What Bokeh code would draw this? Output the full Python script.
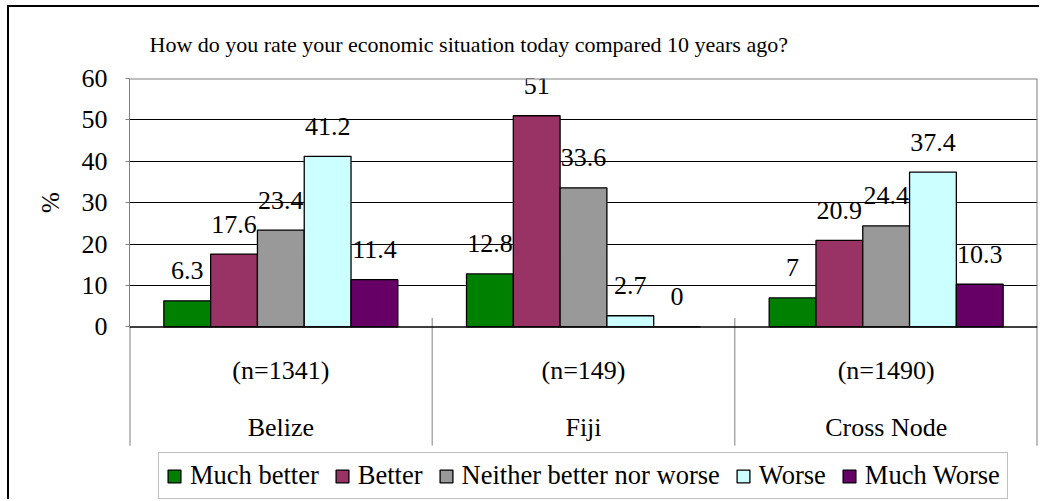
from bokeh.plotting import figure
from bokeh.models import Range1d, FixedTicker, Span, Legend, LegendItem, ColumnDataSource
from bokeh.core.properties import value
from bokeh.embed import file_html
from bokeh.resources import INLINE

# ---- data ----
groups = ["Belize", "Fiji", "Cross Node"]
sample_sizes = ["(n=1341)", "(n=149)", "(n=1490)"]
series_names = ["Much better", "Better", "Neither better nor worse", "Worse", "Much Worse"]
much_better = [6.3, 12.8, 7]
better = [17.6, 51, 20.9]
neither = [23.4, 33.6, 24.4]
worse = [41.2, 2.7, 37.4]
much_worse = [11.4, 0, 10.3]
y_ticks = [0, 10, 20, 30, 40, 50, 60]
title_text = "How do you rate your economic situation today compared 10 years ago?"
y_label = "%"

series_values = [much_better, better, neither, worse, much_worse]
colors = ["#008000", "#993366", "#999999", "#CCFFFF", "#660066"]

FONT = "Liberation Serif"
n_groups = len(groups)

# layout (page pixels): value axis 0 -> y=326, 60 -> y=77; category band down to y=445
PX = (326 - 77) / (y_ticks[-1] - y_ticks[0])
y_min = -(501 - 326) / PX            # frame reaches the bottom of the page
cat_bottom = -(445 - 326) / PX
n_row_y = -(370 - 326) / PX
g_row_y = -(427 - 326) / PX
sep_top = 9 / PX

p = figure(width=1032, height=494, output_backend="svg", toolbar_location=None,
           x_range=Range1d(0, n_groups), y_range=Range1d(y_min, y_ticks[-1]),
           x_axis_location=None,
           min_border_left=120, min_border_right=4, min_border_top=70,
           min_border_bottom=0)
p.styles = {"margin-left": "7px", "margin-top": "5px",
            "border-left": "2px solid black", "border-top": "2px solid black"}
p.background_fill_color = "white"
p.border_fill_color = "white"
p.outline_line_color = None
p.xgrid.visible = False

# title
p.title.text = title_text
p.title.align = "left"
p.title.offset = 20
p.title.text_font = FONT
p.title.text_font_size = "22px"
p.title.text_font_style = "normal"
p.title.text_color = "black"
p.title.standoff = 44

# y axis
ya = p.yaxis[0]
ya.ticker = FixedTicker(ticks=y_ticks)
ya.bounds = (y_ticks[0], y_ticks[-1])
ya.axis_line_color = "#808080"
ya.major_tick_line_color = "#808080"
ya.major_tick_out = 4
ya.major_tick_in = 0
ya.minor_tick_line_color = None
ya.major_label_text_font = FONT
ya.major_label_text_font_size = "26px"
ya.major_label_text_color = "black"
ya.major_label_standoff = 18
# the label is centred on the whole frame; pad it so that it sits beside the value band
ya.axis_label = "\u00a0" * 28 + y_label
ya.axis_label_text_font = FONT
ya.axis_label_text_font_size = "25px"
ya.axis_label_text_font_style = "normal"
ya.axis_label_text_color = "black"
ya.axis_label_standoff = 15

p.ygrid.ticker = FixedTicker(ticks=y_ticks[1:-1])
p.ygrid.grid_line_color = "black"
p.ygrid.grid_line_width = 1

# plot-area top edge, zero line
p.add_layout(Span(location=y_ticks[-1], dimension="width", line_color="#808080", line_width=2))
p.add_layout(Span(location=0, dimension="width", line_color="black", line_width=1.5))

# group separators (category axis ticks) and plot-area edges
inner = list(range(1, n_groups))
p.segment(x0=inner, y0=[cat_bottom] * len(inner), x1=inner, y1=[sep_top] * len(inner),
          line_color="#808080", line_width=1)
p.segment(x0=[0], y0=[cat_bottom], x1=[0], y1=[0], line_color="#808080", line_width=2)
p.segment(x0=[n_groups], y0=[cat_bottom], x1=[n_groups], y1=[y_ticks[-1]],
          line_color="#808080", line_width=2)

# category labels
centres = [g + 0.5 for g in range(n_groups)]
p.text(x=centres, y=[n_row_y] * n_groups, text=sample_sizes, text_font=value(FONT),
       text_font_size="26px", text_align="center", text_baseline="middle",
       text_color="black")
p.text(x=centres, y=[g_row_y] * n_groups, text=groups, text_font=value(FONT),
       text_font_size="26px", text_align="center", text_baseline="middle",
       text_color="black")

# bars
bar_w = 46.8 / 302.7
items = []
for i, (name, vals, col) in enumerate(zip(series_names, series_values, colors)):
    xs = [g + 0.5 + (i - 2) * bar_w for g in range(n_groups)]
    src = ColumnDataSource(dict(x=xs, top=vals, lab=[f"{v:g}" for v in vals]))
    r = p.vbar(x="x", top="top", bottom=0, width=bar_w, source=src,
               fill_color=col, line_color="black", line_width=1.3)
    p.text(x="x", y="top", text="lab", source=src, text_font=value(FONT),
           text_font_size="26px", text_align="center", text_baseline="alphabetic",
           y_offset=-30, text_color="black")
    items.append(LegendItem(label=name, renderers=[r]))

# legend
legend = Legend(items=items, orientation="horizontal", location=(29, 2),
                label_text_font=FONT, label_text_font_size="26.5px",
                label_text_color="black", glyph_width=16, glyph_height=16,
                label_standoff=8, spacing=15, padding=7, margin=0,
                border_line_color="#808080", border_line_width=1,
                background_fill_color="white", label_height=25)
p.add_layout(legend)

open("out.html", "w").write(file_html(p, INLINE))
